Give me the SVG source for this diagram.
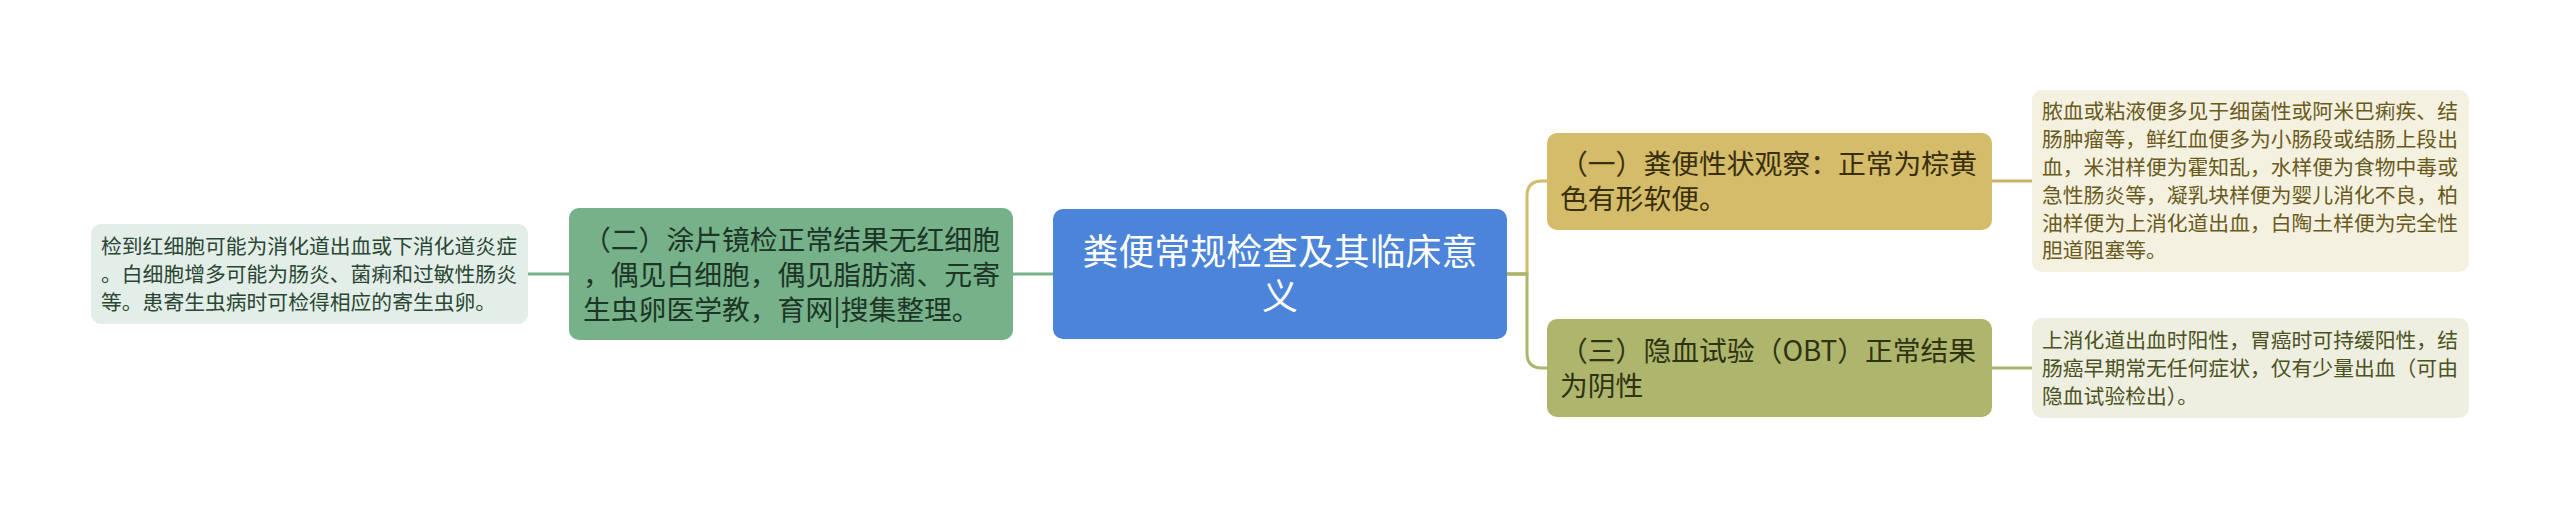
<svg xmlns="http://www.w3.org/2000/svg" width="2560" height="509" viewBox="0 0 2560 509">
<style>
text{font-family:"Noto Sans CJK SC","Noto Sans",sans-serif;}
.leaf{font-size:20.8px;}
.main{font-size:27.8px;}
.root{font-size:35.9px;fill:#ffffff;}
.conn{fill:none;stroke-width:3;}
</style>
<rect x="0" y="0" width="2560" height="509" fill="#ffffff"/>
<g id="connectors">
<path class="conn" stroke="#76b189" d="M1053 274H1013"/>
<path class="conn" stroke="#76b189" d="M569 274H528"/>
<path class="conn" stroke="#d2bc6c" d="M1507 274H1527V196Q1527 181 1542 181H1547"/>
<path class="conn" stroke="#adb56c" d="M1507 274H1527V353Q1527 368 1542 368H1547"/>
<path class="conn" stroke="#adb56c" d="M1507 274H1527"/>
<path class="conn" stroke="#c9b46a" d="M1992 181H2032"/>
<path class="conn" stroke="#a9b26b" d="M1992 368H2032"/>
</g>
<g id="root">
<rect x="1053" y="209" width="454" height="130" rx="10" fill="#4b84d8"/>
<text class="root" text-anchor="middle" x="1280" y="264.6">粪便常规检查及其临床意</text>
<text class="root" text-anchor="middle" x="1280" y="310.3">义</text>
</g>
<g id="n2">
<rect x="569" y="208" width="444" height="132" rx="10" fill="#76b189"/>
<text class="main" fill="#1d3526" x="583" y="249.6">（二）涂片镜检正常结果无红细胞</text>
<text class="main" fill="#1d3526" x="583" y="284.6">，偶见白细胞，偶见脂肪滴、元寄</text>
<text class="main" fill="#1d3526" x="583" y="319.6">生虫卵医学教，育网|搜集整理。</text>
</g>
<g id="leaf2">
<rect x="91" y="224" width="437" height="100" rx="10" fill="#e4eee8"/>
<text class="leaf" fill="#2a4634" x="101" y="254.1">检到红细胞可能为消化道出血或下消化道炎症</text>
<text class="leaf" fill="#2a4634" x="101" y="281.9">。白细胞增多可能为肠炎、菌痢和过敏性肠炎</text>
<text class="leaf" fill="#2a4634" x="101" y="309.7">等。患寄生虫病时可检得相应的寄生虫卵。</text>
</g>
<g id="n1">
<rect x="1547" y="133" width="445" height="97" rx="10" fill="#d4bc6a"/>
<text class="main" fill="#3a2f0c" x="1560" y="174.1">（一）粪便性状观察：正常为棕黄</text>
<text class="main" fill="#3a2f0c" x="1560" y="209.1">色有形软便。</text>
</g>
<g id="n3">
<rect x="1547" y="319" width="445" height="98" rx="10" fill="#aeb66d"/>
<text class="main" fill="#2f3312" x="1560" y="361.1">（三）隐血试验（OBT）正常结果</text>
<text class="main" fill="#2f3312" x="1560" y="396.1">为阴性</text>
</g>
<g id="leaf1">
<rect x="2032" y="90" width="437" height="182" rx="10" fill="#f4f1e1"/>
<text class="leaf" fill="#6a5a1c" x="2042" y="119.4">脓血或粘液便多见于细菌性或阿米巴痢疾、结</text>
<text class="leaf" fill="#6a5a1c" x="2042" y="147.2">肠肿瘤等，鲜红血便多为小肠段或结肠上段出</text>
<text class="leaf" fill="#6a5a1c" x="2042" y="175.0">血，米泔样便为霍知乱，水样便为食物中毒或</text>
<text class="leaf" fill="#6a5a1c" x="2042" y="202.8">急性肠炎等，凝乳块样便为婴儿消化不良，柏</text>
<text class="leaf" fill="#6a5a1c" x="2042" y="230.6">油样便为上消化道出血，白陶土样便为完全性</text>
<text class="leaf" fill="#6a5a1c" x="2042" y="258.4">胆道阻塞等。</text>
</g>
<g id="leaf3">
<rect x="2032" y="318" width="437" height="100" rx="10" fill="#eeefe1"/>
<text class="leaf" fill="#4c5221" x="2042" y="348.1">上消化道出血时阳性，胃癌时可持缓阳性，结</text>
<text class="leaf" fill="#4c5221" x="2042" y="375.9">肠癌早期常无任何症状，仅有少量出血（可由</text>
<text class="leaf" fill="#4c5221" x="2042" y="403.7">隐血试验检出）。</text>
</g>
</svg>
